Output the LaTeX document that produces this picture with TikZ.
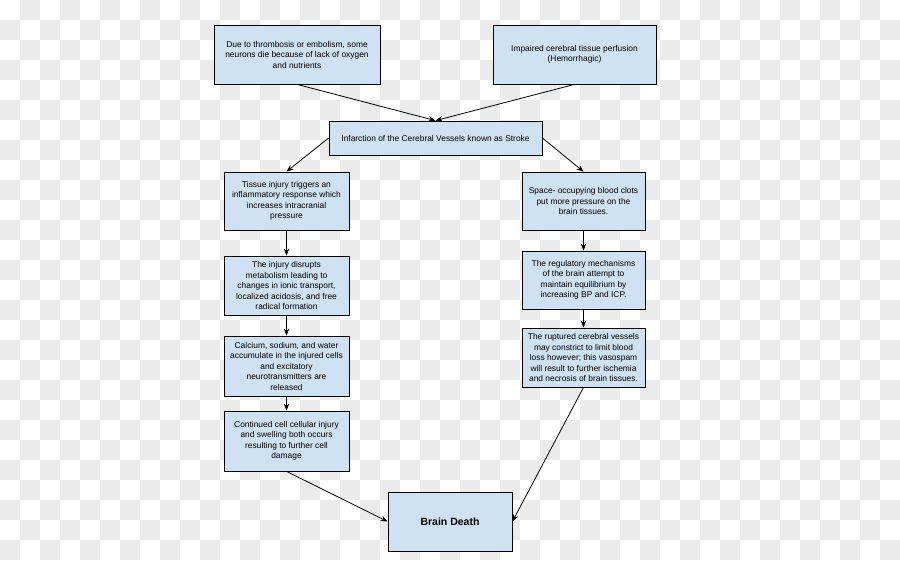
\documentclass[tikz,border=0pt]{standalone}
\usepackage{fontspec}
\setmainfont{Liberation Sans}
\usetikzlibrary{arrows.meta}
\definecolor{boxfill}{HTML}{CFE2F3}
\definecolor{checker}{HTML}{EBEBEB}
\tikzset{
  flowbox/.style={draw=black, line width=0.8pt, fill=boxfill, align=center,
    font=\fontsize{8.4}{10.5}\selectfont, inner sep=1pt, anchor=center},
  conn/.style={draw=black, line width=0.8pt, -{Stealth[length=7pt,width=5.5pt]}}
}
\begin{document}
\begin{tikzpicture}[x=1pt,y=-1pt]
\useasboundingbox (0,0) rectangle (900,560);
\fill[white] (0,0) rectangle (900,560);
\foreach \j in {0,2,...,26} \foreach \i in {1,3,...,43}
  \fill[checker] (\i*20,\j*20) rectangle +(20,20);
\foreach \j in {1,3,...,27} \foreach \i in {0,2,...,44}
  \fill[checker] (\i*20,\j*20) rectangle +(20,20);

\node[flowbox, minimum width=166pt, minimum height=59pt] (A) at (297,54.5)
  {Due to thrombosis or embolism, some\\neurons die because of lack of oxygen\\and nutrients};
\node[flowbox, minimum width=163pt, minimum height=59pt] (B) at (574.5,54.5)
  {Impaired cerebral tissue perfusion\\(Hemorrhagic)};
\node[flowbox, minimum width=213pt, minimum height=34pt] (S) at (435.5,138)
  {Infarction of the Cerebral Vessels known as Stroke};

\node[flowbox, minimum width=125pt, minimum height=58pt] (L1) at (286.5,201)
  {Tissue injury triggers an\\inflammatory response which\\increases intracranial\\pressure};
\node[flowbox, minimum width=125pt, minimum height=59pt] (L2) at (286.5,285.5)
  {The injury disrupts\\metabolism leading to\\changes in ionic transport,\\localized acidosis, and free\\radical formation};
\node[flowbox, minimum width=125pt, minimum height=60pt] (L3) at (286.5,366)
  {Calcium, sodium, and water\\accumulate in the injured cells\\and excitatory\\neurotransmitters are\\released};
\node[flowbox, minimum width=125pt, minimum height=60pt] (L4) at (286.5,441)
  {Continued cell cellular injury\\and swelling both occurs\\resulting to further cell\\damage};

\node[flowbox, minimum width=123pt, minimum height=58pt] (R1) at (583.5,201)
  {Space- occupying blood clots\\put more pressure on the\\brain tissues.};
\node[flowbox, minimum width=123pt, minimum height=58pt] (R2) at (583.5,280)
  {The regulatory mechanisms\\of the brain attempt to\\maintain equilibrium by\\increasing BP and ICP.};
\node[flowbox, minimum width=123pt, minimum height=59pt] (R3) at (583.5,357.5)
  {The ruptured cerebral vessels\\may constrict to limit blood\\loss however; this vasospam\\will result to further ischemia\\and necrosis of brain tissues.};

\node[flowbox, minimum width=124pt, minimum height=59pt, font=\fontsize{10.5}{12.5}\selectfont\bfseries] (BD) at (450,521.5)
  {Brain Death};

\draw[conn] (A.south) -- (S.north);
\draw[conn] (B.south) -- (S.north);
\draw[conn] (S.west) -- (L1.north);
\draw[conn] (S.east) -- (R1.north);
\draw[conn] (L1) -- (L2);
\draw[conn] (L2) -- (L3);
\draw[conn] (L3) -- (L4);
\draw[conn] (R1) -- (R2);
\draw[conn] (R2) -- (R3);
\draw[conn] (L4.south) -- (BD.west);
\draw[conn] (R3.south) -- (BD.east);
\end{tikzpicture}
\end{document}
